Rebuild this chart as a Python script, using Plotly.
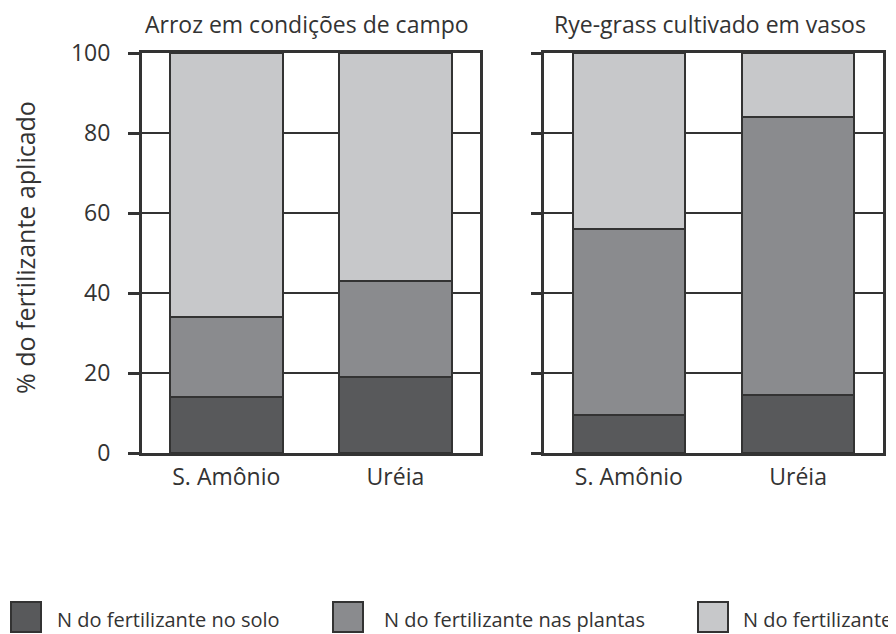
import plotly.graph_objects as go

# ---- data ----
categories = ["S. Amônio", "Uréia"]
panel_titles = ["Arroz em condições de campo", "Rye-grass cultivado em vasos"]
series_names = ["N do fertilizante no solo", "N do fertilizante nas plantas", "N do fertilizante"]

# segment values (% of applied fertilizer), per panel
arroz_solo = [14, 19]
arroz_plantas = [20, 24]
arroz_resto = [66, 57]

rye_solo = [9.5, 14.5]
rye_plantas = [46.5, 69.5]
rye_resto = [44, 16]

y_ticks = [0, 20, 40, 60, 80, 100]
y_title = "% do fertilizante aplicado"

# ---- style ----
colors = ["#58595b", "#8a8b8e", "#c7c8ca"]
ink = "#333333"
FONT = "Open Sans"
W, H = 896, 634
OFF = 8  # page body margin offset

fig = go.Figure()

panels = [
    ("x", "y", [arroz_solo, arroz_plantas, arroz_resto]),
    ("x2", "y2", [rye_solo, rye_plantas, rye_resto]),
]
for xa, ya, segs in panels:
    for name, vals, col in zip(series_names, segs, colors):
        fig.add_trace(go.Bar(
            x=categories, y=vals, name=name, xaxis=xa, yaxis=ya,
            marker=dict(color=col, line=dict(color=ink, width=2)),
            width=0.665, showlegend=False,
        ))

def px_x(v):
    return (v - OFF) / W

def px_y(v):
    return 1 - (v - OFF) / H

x_dom1 = [px_x(141.7), px_x(480)]
x_dom2 = [px_x(544.3), px_x(882.7)]
y_dom = [px_y(453), px_y(53)]

common_x = dict(range=[-0.5, 1.5], showline=True, mirror=True, linecolor=ink, linewidth=2.5,
                showgrid=False, zeroline=False, ticks="", automargin=False,
                tickfont=dict(family=FONT, size=23, color=ink), ticklabelstandoff=2)
common_y = dict(range=[0, 100], tickvals=y_ticks, showline=True, mirror=True, linecolor=ink,
                linewidth=2.5, showgrid=True, gridcolor=ink, gridwidth=1.6, zeroline=False,
                ticks="outside", ticklen=11, tickwidth=3, tickcolor=ink, automargin=False,
                tickfont=dict(family=FONT, size=23, color=ink), ticklabelstandoff=13)

fig.update_layout(
    width=W, height=H,
    margin=dict(l=0, r=0, t=0, b=0),
    paper_bgcolor="white", plot_bgcolor="white",
    barmode="stack", bargap=0.33,
    showlegend=False,
    xaxis=dict(domain=x_dom1, anchor="y", **common_x),
    yaxis=dict(domain=y_dom, anchor="x", showticklabels=True, **common_y),
    xaxis2=dict(domain=x_dom2, anchor="y2", **common_x),
    yaxis2=dict(domain=y_dom, anchor="x2", showticklabels=False, **common_y),
)

ann = []
# panel titles
for t, dom in zip(panel_titles, [x_dom1, x_dom2]):
    ann.append(dict(text=t, x=(dom[0] + dom[1]) / 2 - 4 / W, y=px_y(24), xref="paper", yref="paper",
                    xanchor="center", yanchor="middle", showarrow=False,
                    font=dict(family=FONT, size=23, color=ink)))
# y axis title
ann.append(dict(text=y_title, x=px_x(25), y=px_y(248), xref="paper", yref="paper",
                xanchor="center", yanchor="middle", textangle=-90, showarrow=False,
                font=dict(family=FONT, size=25, color=ink)))

# manual legend
shapes = []
leg_sq_x = [10, 332, 697]
leg_txt_x = [55, 382, 741]
for name, col, sx, tx in zip(series_names, colors, leg_sq_x, leg_txt_x):
    shapes.append(dict(type="rect", xref="paper", yref="paper",
                       x0=px_x(sx + 1), x1=px_x(sx + 31), y0=px_y(632), y1=px_y(602),
                       fillcolor=col, line=dict(color=ink, width=2)))
    ann.append(dict(text=name, x=px_x(tx), y=px_y(619), xref="paper", yref="paper",
                    xanchor="left", yanchor="middle", showarrow=False,
                    font=dict(family=FONT, size=20, color=ink)))

fig.update_layout(annotations=ann, shapes=shapes)

fig.write_html("out.html")
